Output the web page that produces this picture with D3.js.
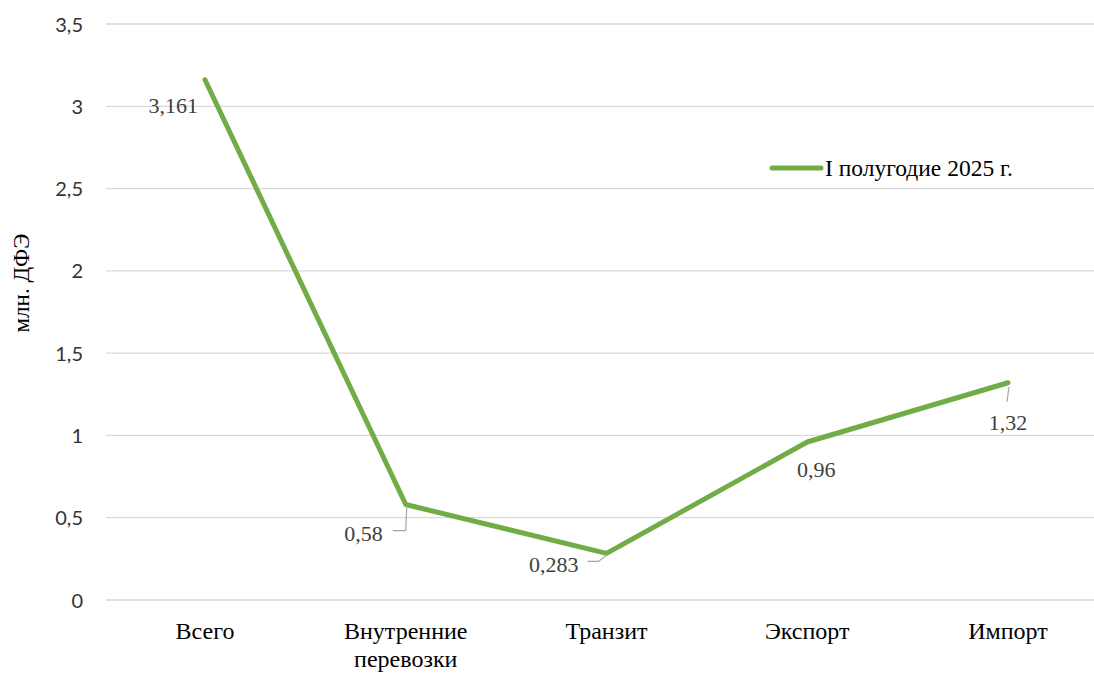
<!DOCTYPE html>
<html><head><meta charset="utf-8">
<script src="https://cdn.jsdelivr.net/npm/d3@7/dist/d3.min.js"></script>
<style>body{margin:0;background:#fff}svg{display:block}</style>
</head><body>
<svg id="c" width="1094" height="675"></svg>
<script>
const categories = ["Всего", "Внутренние\nперевозки", "Транзит", "Экспорт", "Импорт"];
const values = [3.161, 0.58, 0.283, 0.96, 1.32];
const valueLabels = ["3,161", "0,58", "0,283", "0,96", "1,32"];
const yTicks = [0, 0.5, 1, 1.5, 2, 2.5, 3, 3.5];
const seriesName = "I полугодие 2025 г.";
const yTitle = "млн. ДФЭ";

const svg = d3.select("#c");
const x = d3.scalePoint().domain(categories).range([205, 1008]);
const y = d3.scaleLinear().domain([0, 3.5]).range([600, 24]);
const fmt = v => String(v).replace(".", ",");
const green = "#70AD47";

// gridlines
svg.append("g").selectAll("line").data(yTicks).join("line")
  .attr("x1", 106).attr("x2", 1094)
  .attr("y1", d => y(d)).attr("y2", d => y(d))
  .attr("stroke", "#d9d9d9").attr("stroke-width", 1.3);

// y axis labels
const yAxis = svg.append("g").attr("transform", "translate(83,0)")
  .call(d3.axisLeft(y).tickValues(yTicks).tickFormat(fmt).tickSize(0).tickPadding(0));
yAxis.select(".domain").remove();
yAxis.selectAll("text").attr("font-family", "Lato, 'Liberation Sans', sans-serif")
  .attr("font-size", 20).attr("fill", "#333333").attr("dy", "0.35em");

// y title
svg.append("text").attr("transform", "translate(29,283) rotate(-90)")
  .attr("text-anchor", "middle").attr("font-family", "'Liberation Serif', serif")
  .attr("font-size", 23).attr("fill", "#000").text(yTitle);

// x labels
const xl = svg.append("g");
categories.forEach(c => {
  const t = xl.append("text").attr("x", x(c)).attr("y", 639)
    .attr("text-anchor", "middle").attr("font-family", "'Liberation Serif', serif")
    .attr("font-size", 24).attr("fill", "#000");
  c.split("\n").forEach((ln, i) => {
    t.append("tspan").attr("x", x(c)).attr("dy", i === 0 ? 0 : 28).text(ln);
  });
});

// line
const pts = categories.map((c, i) => [x(c), y(values[i])]);
svg.append("path").attr("d", d3.line()(pts))
  .attr("fill", "none").attr("stroke", green).attr("stroke-width", 5)
  .attr("stroke-linejoin", "round").attr("stroke-linecap", "round");

// data labels (offsets relative to point: dx, dy, anchor, leader path)
const labelStyle = [
  {dx: -7, dy: 33, anchor: "end", leader: null},
  {dx: -23, dy: 36, anchor: "end", leader: [[1, 3], [0, 26], [-13, 26]]},
  {dx: -28, dy: 19, anchor: "end", leader: [[1, 1], [-8, 8], [-19, 8]]},
  {dx: 9, dy: 35, anchor: "middle", leader: null},
  {dx: 0, dy: 47, anchor: "middle", leader: [[1, 4], [-1, 19]]}
];
const lg = svg.append("g");
pts.forEach((p, i) => {
  const s = labelStyle[i];
  if (s.leader) {
    lg.append("path").attr("d", d3.line()(s.leader.map(q => [p[0] + q[0], p[1] + q[1]])))
      .attr("fill", "none").attr("stroke", "#a6a6a6").attr("stroke-width", 1.2);
  }
  lg.append("text").attr("x", p[0] + s.dx).attr("y", p[1] + s.dy)
    .attr("text-anchor", s.anchor).attr("font-family", "'Liberation Serif', serif")
    .attr("font-size", 22).attr("fill", "#404040").text(valueLabels[i]);
});

// legend
svg.append("line").attr("x1", 772).attr("x2", 821).attr("y1", 168).attr("y2", 168)
  .attr("stroke", green).attr("stroke-width", 5).attr("stroke-linecap", "round");
svg.append("text").attr("x", 825).attr("y", 176).attr("font-family", "'Liberation Serif', serif")
  .attr("font-size", 23.5).attr("fill", "#000").text(seriesName);
</script>
</body></html>
